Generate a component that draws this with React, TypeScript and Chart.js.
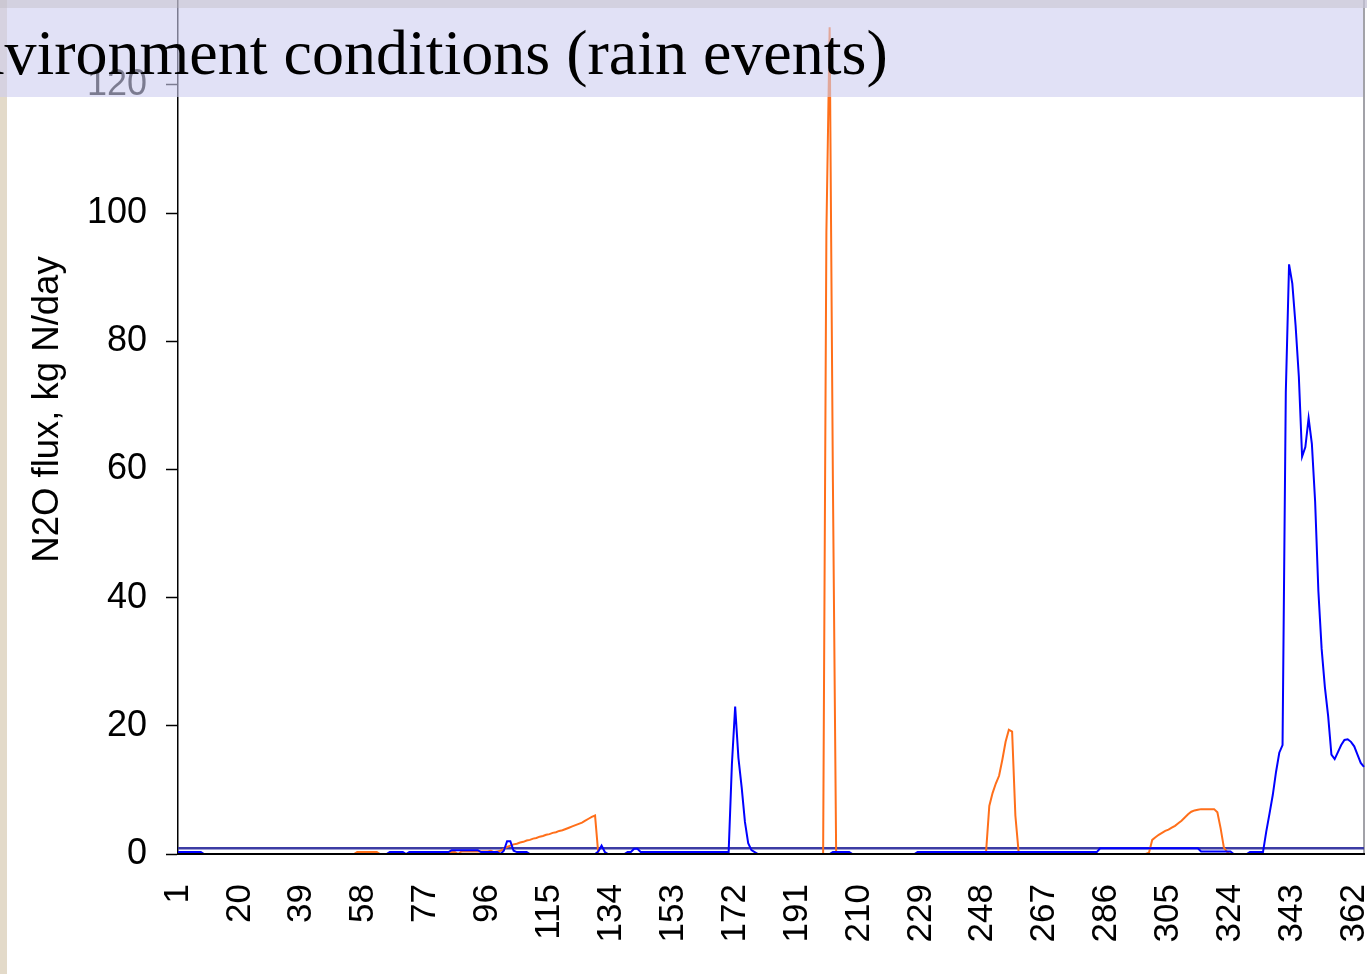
import React, { useEffect, useRef } from 'react';
import { Chart, registerables } from 'chart.js';

Chart.register(...registerables);

// Day-of-year categories (1..365)
const days: string[] = Array.from({ length: 365 }, (_, i) => String(i + 1));

// Tick labels shown on the x axis
const tickLabels: string[] = ['1', '20', '39', '58', '77', '96', '115', '134', '153', '172', '191', '210', '229', '248', '267', '286', '305', '324', '343', '362'];

// Tick values on the y axis
const yTickValues: number[] = [0, 20, 40, 60, 80, 100, 120];

// Orange series, N2O flux kg N/day, days 1..365
const orangeFlux: number[] = [
  // 1-20
  0, 0, 0, 0, 0, 0, 0, 0, 0, 0, 0, 0, 0, 0, 0, 0, 0, 0, 0, 0,
  // 21-40
  0, 0, 0, 0, 0, 0, 0, 0, 0, 0, 0, 0, 0, 0, 0, 0, 0, 0, 0, 0,
  // 41-60
  0, 0, 0, 0, 0, 0, 0, 0, 0, 0, 0, 0, 0, 0, 0, 0.3, 0.3, 0.3, 0.3, 0.3,
  // 61-80
  0.3, 0.3, 0, 0, 0, 0, 0, 0, 0, 0, 0, 0, 0, 0, 0, 0, 0, 0.3, 0.3, 0.3,
  // 81-100
  0, 0, 0, 0.3, 0.3, 0.3, 0, 0.4, 0.4, 0.4, 0.4, 0.4, 0.4, 0.4, 0.4, 0.4, 0.5, 0.3, 0.4, 0.5,
  // 101-120
  0.8, 1.1, 1.3, 1.5, 1.6, 1.8, 1.9, 2.1, 2.2, 2.4, 2.5, 2.7, 2.8, 3.0, 3.1, 3.3, 3.4, 3.6, 3.7, 3.9,
  // 121-140
  4.1, 4.3, 4.5, 4.7, 4.9, 5.2, 5.5, 5.8, 6.0, 0, 0, 0, 0, 0, 0, 0, 0, 0, 0, 0,
  // 141-160
  0, 0, 0, 0, 0, 0, 0, 0, 0, 0, 0, 0, 0, 0, 0, 0, 0, 0, 0, 0,
  // 161-180
  0, 0, 0, 0, 0, 0, 0, 0, 0, 0, 0, 0, 0, 0, 0, 0, 0, 0, 0, 0,
  // 181-200
  0, 0, 0, 0, 0, 0, 0, 0, 0, 0, 0, 0, 0, 0, 0, 0, 0, 0, 0, 97,
  // 201-220
  129, 58, 0, 0, 0, 0, 0, 0, 0, 0, 0, 0, 0, 0, 0, 0, 0, 0, 0, 0,
  // 221-240
  0, 0, 0, 0, 0, 0, 0, 0, 0, 0, 0, 0, 0, 0, 0, 0, 0, 0, 0, 0,
  // 241-260
  0, 0, 0, 0, 0, 0, 0, 0, 0.3, 7.5, 9.5, 11, 12.2, 14.7, 17.5, 19.4, 19.1, 6, 0.3, 0,
  // 261-280
  0, 0, 0, 0, 0, 0, 0, 0, 0, 0, 0, 0, 0, 0, 0, 0, 0, 0, 0, 0,
  // 281-300
  0, 0, 0, 0, 0, 0, 0, 0, 0, 0, 0, 0, 0, 0, 0, 0, 0, 0, 0.2, 2.2,
  // 301-320
  2.6, 3.0, 3.3, 3.6, 3.8, 4.1, 4.4, 4.8, 5.2, 5.7, 6.2, 6.6, 6.8, 6.9, 7.0, 7.0, 7.0, 7.0, 7.0, 6.5,
  // 321-340
  4.0, 1.0, 0.3, 0, 0, 0, 0, 0, 0, 0, 0, 0, 0, 0, 0, 0, 0, 0, 0, 0,
  // 341-360
  0, 0, 0, 0, 0, 0, 0, 0, 0, 0, 0, 0, 0, 0, 0, 0, 0, 0, 0, 0,
  // 361-365
  0, 0, 0, 0, 0,
];

// Blue series, N2O flux kg N/day, days 1..365
const blueFlux: number[] = [
  // 1-20
  0.3, 0.3, 0.3, 0.3, 0.3, 0.3, 0.3, 0.3, 0, 0, 0, 0, 0, 0, 0, 0, 0, 0, 0, 0,
  // 21-40
  0, 0, 0, 0, 0, 0, 0, 0, 0, 0, 0, 0, 0, 0, 0, 0, 0, 0, 0, 0,
  // 41-60
  0, 0, 0, 0, 0, 0, 0, 0, 0, 0, 0, 0, 0, 0, 0, 0, 0, 0, 0, 0,
  // 61-80
  0, 0, 0, 0, 0, 0.3, 0.3, 0.3, 0.3, 0.3, 0, 0.3, 0.3, 0.3, 0.3, 0.3, 0.3, 0.3, 0.3, 0.3,
  // 81-100
  0.3, 0.3, 0.3, 0.3, 0.6, 0.6, 0.6, 0.6, 0.6, 0.6, 0.6, 0.6, 0.6, 0.3, 0.3, 0.3, 0.3, 0.3, 0.3, 0,
  // 101-120
  0.5, 2.0, 2.0, 0.5, 0.3, 0.3, 0.3, 0.3, 0, 0, 0, 0, 0, 0, 0, 0, 0, 0, 0, 0,
  // 121-140
  0, 0, 0, 0, 0, 0, 0, 0, 0, 0.4, 1.3, 0.3, 0, 0, 0, 0, 0, 0, 0.3, 0.3,
  // 141-160
  0.8, 0.8, 0.3, 0.3, 0.3, 0.3, 0.3, 0.3, 0.3, 0.3, 0.3, 0.3, 0.3, 0.3, 0.3, 0.3, 0.3, 0.3, 0.3, 0.3,
  // 161-180
  0.3, 0.3, 0.3, 0.3, 0.3, 0.3, 0.3, 0.3, 0.3, 0.3, 14, 23, 15, 10.4, 5, 1.7, 0.6, 0.3, 0, 0,
  // 181-200
  0, 0, 0, 0, 0, 0, 0, 0, 0, 0, 0, 0, 0, 0, 0, 0, 0, 0, 0, 0,
  // 201-220
  0, 0.3, 0.3, 0.3, 0.3, 0.3, 0.3, 0, 0, 0, 0, 0, 0, 0, 0, 0, 0, 0, 0, 0,
  // 221-240
  0, 0, 0, 0, 0, 0, 0, 0.3, 0.3, 0.3, 0.3, 0.3, 0.3, 0.3, 0.3, 0.3, 0.3, 0.3, 0.3, 0.3,
  // 241-260
  0.3, 0.3, 0.3, 0.3, 0.3, 0.3, 0.3, 0.3, 0.3, 0.3, 0.3, 0.3, 0.3, 0.3, 0.3, 0.3, 0.3, 0.3, 0.3, 0.3,
  // 261-280
  0.3, 0.3, 0.3, 0.3, 0.3, 0.3, 0.3, 0.3, 0.3, 0.3, 0.3, 0.3, 0.3, 0.3, 0.3, 0.3, 0.3, 0.3, 0.3, 0.3,
  // 281-300
  0.3, 0.3, 0.3, 0.9, 0.9, 0.9, 0.9, 0.9, 0.9, 0.9, 0.9, 0.9, 0.9, 0.9, 0.9, 0.9, 0.9, 0.9, 0.9, 0.9,
  // 301-320
  0.9, 0.9, 0.9, 0.9, 0.9, 0.9, 0.9, 0.9, 0.9, 0.9, 0.9, 0.9, 0.9, 0.9, 0.4, 0.4, 0.4, 0.4, 0.4, 0.4,
  // 321-340
  0.4, 0.4, 0.4, 0.4, 0, 0, 0, 0, 0, 0.3, 0.3, 0.3, 0.3, 0.3, 3.5, 6.3, 9.2, 12.8, 15.8, 17,
  // 341-360
  72, 92, 89, 82.5, 74.5, 62, 63.5, 68, 64, 55, 41, 32, 26, 21.5, 15.5, 14.8, 15.9, 17, 17.8, 17.9,
  // 361-365
  17.5, 16.8, 15.5, 14.2, 13.6,
];

// Constant navy reference line across the year
const referenceLine = [
  { x: '1', y: 0.9 },
  { x: '365', y: 0.9 },
];

const yTitle = 'N2O flux, kg N/day';
const bannerText = 'environment conditions (rain events)';

function FluxChart() {
  const canvasRef = useRef<HTMLCanvasElement | null>(null);

  useEffect(() => {
    const canvas = canvasRef.current;
    if (!canvas) return;
    const chart = new Chart(canvas, {
      type: 'line',
      data: {
        labels: days,
        datasets: [
          {
            label: 'Blue series',
            data: blueFlux,
            borderColor: '#0000ff',
            borderWidth: 2,
            pointRadius: 0,
            tension: 0,
            fill: false,
            yAxisID: 'y',
          },
          {
            label: 'Orange series',
            data: orangeFlux,
            borderColor: '#ff6f1a',
            borderWidth: 2,
            pointRadius: 0,
            tension: 0,
            fill: false,
            yAxisID: 'y',
          },
          {
            label: 'Reference',
            data: referenceLine as any,
            borderColor: '#3c3ca4',
            borderWidth: 2.4,
            pointRadius: 0,
            tension: 0,
            fill: false,
            yAxisID: 'y',
          },
        ],
      },
      options: {
        animation: false,
        responsive: true,
        maintainAspectRatio: false,
        devicePixelRatio: 1,
        layout: { padding: { top: 25, right: 3, bottom: 0, left: 0 } },
        plugins: {
          legend: { display: false },
          tooltip: { enabled: false },
          title: { display: false },
        },
        scales: {
          x: {
            type: 'category',
            offset: false,
            grid: { display: false, drawTicks: false },
            border: { display: true, color: '#000000', width: 2, z: 1 },
            ticks: {
              autoSkip: false,
              minRotation: 90,
              maxRotation: 90,
              padding: 30,
              color: '#000000',
              font: { family: '"Liberation Sans", Arial, sans-serif', size: 35 },
              callback: (_v: any, index: number) => {
                const lab = days[index];
                return tickLabels.includes(lab) ? lab : null;
              },
            },
            afterFit: (s: any) => {
              s.height = 120;
              s.paddingLeft = 0;
              s.paddingRight = 0;
            },
          },
          y: {
            type: 'linear',
            position: 'left',
            min: 0,
            max: 138.7,
            grid: {
              display: true,
              drawOnChartArea: false,
              drawTicks: true,
              tickLength: 12,
              tickColor: '#000000',
              tickWidth: 1.5,
            },
            border: { display: true, color: '#000000', width: 1.5 },
            ticks: {
              padding: 19,
              color: '#000000',
              font: { family: '"Liberation Sans", Arial, sans-serif', size: 36 },
            },
            afterBuildTicks: (s: any) => {
              s.ticks = yTickValues.map((v) => ({ value: v }));
            },
            title: {
              display: true,
              text: yTitle,
              color: '#000000',
              font: { family: '"Liberation Sans", Arial, sans-serif', size: 36.5 },
              padding: { top: 26, bottom: 0 },
            },
            afterFit: (s: any) => {
              s.width = 178;
              s.paddingTop = 0;
              s.paddingBottom = 0;
            },
          },
          yR: {
            type: 'linear',
            position: 'right',
            min: 0,
            max: 138.7,
            grid: { display: false, drawTicks: false },
            border: { display: true, color: '#a2a2a8', width: 2 },
            ticks: { display: false },
            afterFit: (s: any) => {
              s.width = 0;
              s.paddingTop = 0;
              s.paddingBottom = 0;
            },
          },
        },
      },
    });
    return () => chart.destroy();
  }, []);

  return (
    <div style={{ position: 'absolute', left: 0, top: -60, width: 1367, height: 1034 }}>
      <canvas ref={canvasRef} />
    </div>
  );
}

export default function App() {
  return (
    <div
      style={{
        position: 'fixed',
        left: 0,
        top: 0,
        width: 1367,
        height: 974,
        overflow: 'hidden',
        background: '#ffffff',
      }}
    >
      {/* marbled slide edge on the left */}
      <div style={{ position: 'absolute', left: 0, top: 0, width: 7, height: 974, background: '#e3dac9' }} />
      <FluxChart />
      {/* strip of the previous title line */}
      <div style={{ position: 'absolute', left: 0, top: 0, width: 1367, height: 8, background: 'rgba(196,194,214,0.75)' }} />
      {/* semi-transparent title banner */}
      <div style={{ position: 'absolute', left: 0, top: 8, width: 1363, height: 89, background: 'rgba(205,205,240,0.6)' }} />
      <div
        style={{
          position: 'absolute',
          left: -56,
          top: 21,
          whiteSpace: 'nowrap',
          fontFamily: '"Liberation Serif", "Times New Roman", serif',
          fontSize: 64,
          lineHeight: '64px',
          color: '#000000',
        }}
      >
        {bannerText}
      </div>
    </div>
  );
}
